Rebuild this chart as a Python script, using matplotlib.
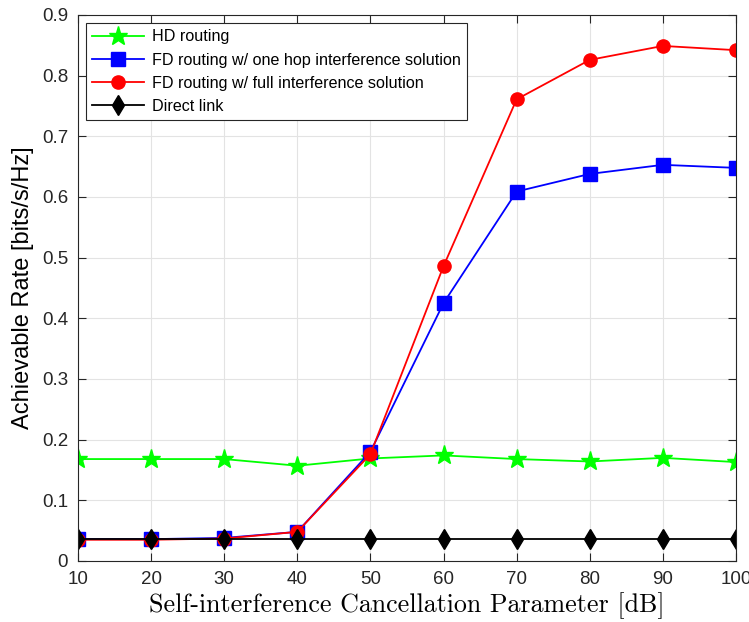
import matplotlib
matplotlib.use("Agg")
import matplotlib.pyplot as plt

# data
snr_db = [10, 20, 30, 40, 50, 60, 70, 80, 90, 100]
hd_rate = [0.168, 0.168, 0.168, 0.157, 0.169, 0.174, 0.168, 0.164, 0.170, 0.163]
fd_one_hop = [0.036, 0.036, 0.038, 0.048, 0.180, 0.425, 0.609, 0.638, 0.653, 0.648]
fd_full = [0.035, 0.035, 0.037, 0.048, 0.176, 0.486, 0.761, 0.826, 0.849, 0.842]
direct = [0.036] * 10

labels = ["HD routing",
          "FD routing w/ one hop interference solution",
          "FD routing w/ full interference solution",
          "Direct link"]

plt.rcParams['font.family'] = ['Liberation Sans', 'DejaVu Sans']

fig = plt.figure(figsize=(7.49, 6.22), dpi=100)
ax = fig.add_axes([0.1041, 0.0981, 0.8785, 0.8778])

ax.plot(snr_db, hd_rate, '-*', color=(0, 1, 0), lw=1.3, ms=14, label=labels[0])
ax.plot(snr_db, fd_one_hop, '-s', color=(0, 0, 1), lw=1.3, ms=10, label=labels[1])
ax.plot(snr_db, fd_full, '-o', color=(1, 0, 0), lw=1.3, ms=9.5, label=labels[2])
ax.plot(snr_db, direct, '-d', color='k', lw=1.3, ms=10, label=labels[3])

ax.set_xlim(10, 100)
ax.set_ylim(0, 0.9)
ax.set_xticks(snr_db)
ax.set_yticks([0, 0.1, 0.2, 0.3, 0.4, 0.5, 0.6, 0.7, 0.8, 0.9])
ax.set_yticklabels(['0', '0.1', '0.2', '0.3', '0.4', '0.5', '0.6', '0.7', '0.8', '0.9'])
ax.grid(True, color='#e3e3e3', lw=0.8)
ax.tick_params(direction='in', top=True, right=True, labelsize=13.5, length=6,
               width=0.8, colors='#262626', pad=7)
for s in ax.spines.values():
    s.set_color('#262626')
    s.set_linewidth(0.8)

ax.set_ylabel("Achievable Rate [bits/s/Hz]", fontsize=17, labelpad=6)
ax.set_xlabel("Self-interference Cancellation Parameter [dB]", fontsize=18.7,
              family='cmr10', labelpad=3)

leg = ax.legend(loc='upper left', bbox_to_anchor=(0.0, 1.0), fontsize=11.6,
                fancybox=False, edgecolor='#262626', framealpha=1,
                handlelength=3.2, borderpad=0.4, labelspacing=0.5,
                handletextpad=0.5)
leg.get_frame().set_linewidth(0.8)

fig.savefig("out.png", dpi=100)
